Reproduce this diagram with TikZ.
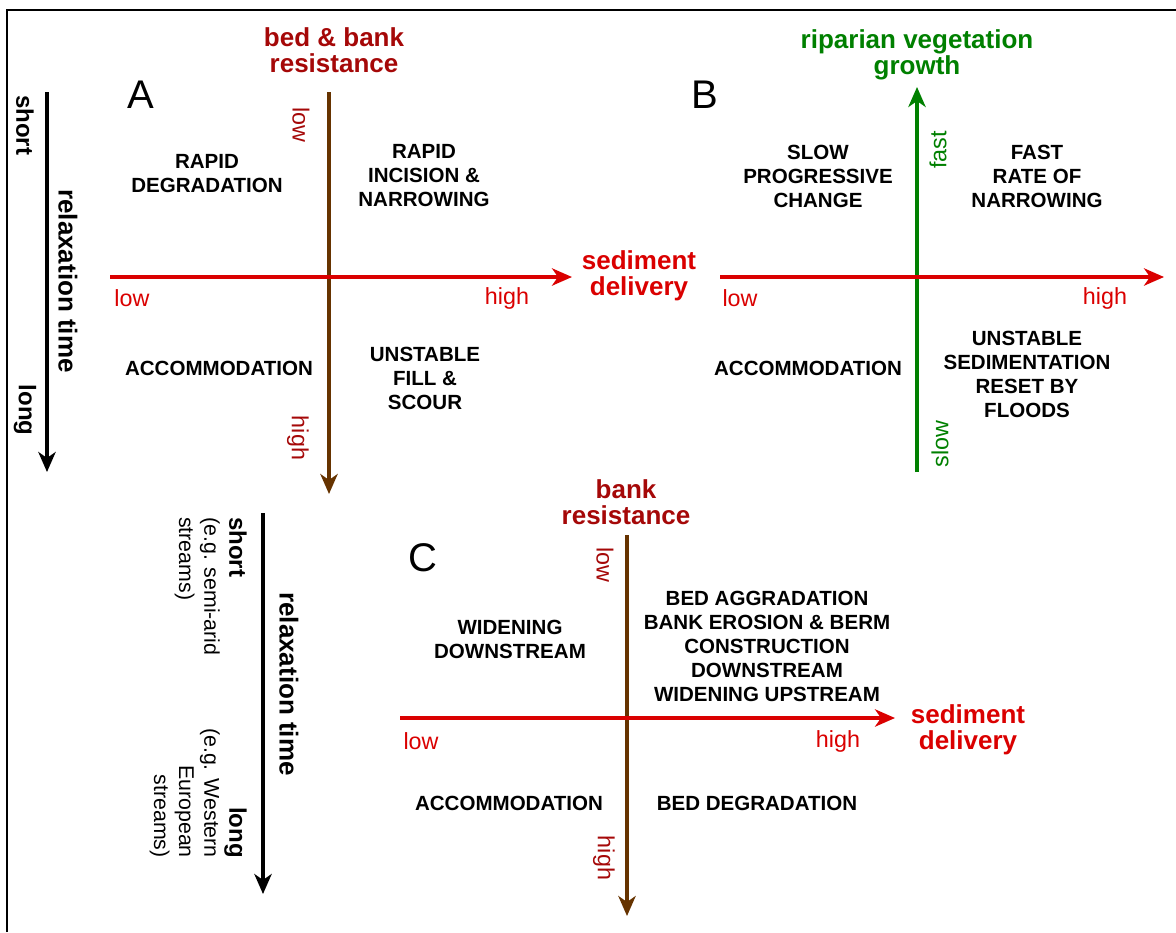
\documentclass[tikz,border=0pt]{standalone}
\usepackage{fontspec}
\setmainfont{Liberation Sans}
\usetikzlibrary{arrows.meta}
\definecolor{axred}{RGB}{218,0,0}
\definecolor{darkred}{RGB}{165,8,8}
\definecolor{axbrown}{RGB}{102,51,0}
\definecolor{axgreen}{RGB}{0,128,0}
\begin{document}
\begin{tikzpicture}[x=0.75pt,y=-0.75pt,
  quad/.style={font=\bfseries\fontsize{15.4}{18}\selectfont,align=center,inner sep=0pt},
  axtitle/.style={font=\bfseries\fontsize{19.5}{19.5}\selectfont,align=center,inner sep=0pt},
  tick/.style={font=\fontsize{17.5}{18}\selectfont,inner sep=0pt},
  panel/.style={font=\fontsize{30}{30}\selectfont,inner sep=0pt},
  timelab/.style={font=\bfseries\fontsize{18}{18}\selectfont,inner sep=0pt},
  axarrow/.style={line width=2.4pt,-{Stealth[length=15pt,width=13pt,inset=4.5pt]}}]
\path[use as bounding box] (0,0) rectangle (1176,932);
\draw[line width=1.5pt] (6.5,932) -- (6.5,9.5) -- (1176,9.5);

% ---------- Panel A ----------
\node[panel] (lA) at (141,95) {A};
\coordinate (tA1) at (47,92);
\coordinate (tA2) at (47,472);
\draw[axarrow,black] (tA1) -- (tA2);
\node[timelab,rotate=-90] (shortA) at (25,125) {short};
\node[timelab,rotate=-90] (longA) at (25,410) {long};
\node[axtitle,rotate=-90] (relA) at (68,281) {relaxation time};

\node[axtitle,text=darkred] (resA) at (334,50) {bed \& bank\\resistance};
\coordinate (bA1) at (329,92);
\coordinate (bA2) at (329,494);
\draw[axarrow,axbrown] (bA1) -- (bA2);
\node[tick,text=darkred,rotate=-90] (bAlow) at (301,125) {low};
\node[tick,text=darkred,rotate=-90] (bAhigh) at (298,438) {high};

\coordinate (sA1) at (110,277);
\coordinate (sA2) at (572,277);
\draw[axarrow,axred] (sA1) -- (sA2);
\node[tick,text=axred] (sAlow) at (132,298) {low};
\node[tick,text=axred] (sAhigh) at (507,298) {high};
\node[axtitle,text=axred] (sedA) at (639,276) {sediment\\delivery};

\node[quad] (qA1) at (207,174) {RAPID\\DEGRADATION};
\node[quad] (qA2) at (424,176) {RAPID\\INCISION \&\\NARROWING};
\node[quad] (qA3) at (219,368) {ACCOMMODATION};
\node[quad] (qA4) at (425,378) {UNSTABLE\\FILL \&\\SCOUR};

% ---------- Panel B ----------
\node[panel] (lB) at (705,95) {B};
\node[axtitle,text=axgreen] (vegB) at (917,55) {riparian vegetation\\growth};
\coordinate (gB1) at (917,472);
\coordinate (gB2) at (917,87);
\draw[axarrow,axgreen] (gB1) -- (gB2);
\node[tick,text=axgreen,rotate=90] (gBfast) at (938,150) {fast};
\node[tick,text=axgreen,rotate=90] (gBslow) at (940,444) {slow};

\coordinate (sB1) at (720,277);
\coordinate (sB2) at (1164,277);
\draw[axarrow,axred] (sB1) -- (sB2);
\node[tick,text=axred] (sBlow) at (740,298) {low};
\node[tick,text=axred] (sBhigh) at (1105,298) {high};

\node[quad] (qB1) at (818,176) {SLOW\\PROGRESSIVE\\CHANGE};
\node[quad] (qB2) at (1037,176) {FAST\\RATE OF\\NARROWING};
\node[quad] (qB3) at (808,368) {ACCOMMODATION};
\node[quad] (qB4) at (1027,374) {UNSTABLE\\SEDIMENTATION\\RESET BY\\FLOODS};

% ---------- Panel C ----------
\node[panel] (lC) at (423,558) {C};
\coordinate (tC1) at (263,513);
\coordinate (tC2) at (263,894);
\draw[axarrow,black] (tC1) -- (tC2);
\node[axtitle,rotate=-90] (relC) at (289,684) {relaxation time};
\node[rotate=-90,anchor=north west,align=left,inner sep=0pt,
      font=\fontsize{16}{18.8}\selectfont] (shortC) at (247,517)
      {{\bfseries\fontsize{18}{18.8}\selectfont short}\\(e.g. semi-arid\\streams)};
\node[rotate=-90,anchor=north east,align=right,inner sep=0pt,
      font=\fontsize{16}{18.8}\selectfont] (longC) at (247,858)
      {{\bfseries\fontsize{18}{18.8}\selectfont long}\\(e.g. Western\\European\\streams)};

\node[axtitle,text=darkred] (resC) at (626,502) {bank\\resistance};
\coordinate (bC1) at (627,535);
\coordinate (bC2) at (627,916);
\draw[axarrow,axbrown] (bC1) -- (bC2);
\node[tick,text=darkred,rotate=-90] (bClow) at (605,565) {low};
\node[tick,text=darkred,rotate=-90] (bChigh) at (604,858) {high};

\coordinate (sC1) at (400,718);
\coordinate (sC2) at (895,718);
\draw[axarrow,axred] (sC1) -- (sC2);
\node[tick,text=axred] (sClow) at (421,741) {low};
\node[tick,text=axred] (sChigh) at (838,741) {high};
\node[axtitle,text=axred] (sedC) at (968,730) {sediment\\delivery};

\node[quad] (qC1) at (510,639) {WIDENING\\DOWNSTREAM};
\node[quad] (qC2) at (767,646) {BED AGGRADATION\\BANK EROSION \& BERM\\CONSTRUCTION\\DOWNSTREAM\\WIDENING UPSTREAM};
\node[quad] (qC3) at (509,803) {ACCOMMODATION};
\node[quad] (qC4) at (757,803) {BED DEGRADATION};
\end{tikzpicture}
\end{document}
